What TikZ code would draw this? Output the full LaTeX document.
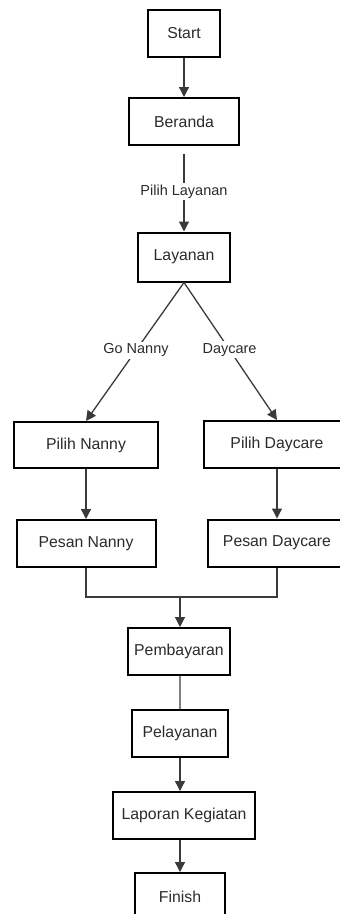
\documentclass[tikz,border=0pt]{standalone}
\usepackage{fontspec}
\setmainfont{Liberation Sans}
\usetikzlibrary{arrows.meta}
\definecolor{ink}{HTML}{2B2B2B}
\definecolor{linegray}{HTML}{3A3A3A}
\begin{document}
\begin{tikzpicture}[x=1pt,y=-1pt,
  box/.style={draw=black,line width=2pt,fill=white,text=ink,
    inner sep=0pt,minimum height=47pt,font=\fontsize{15.8}{18}\selectfont},
  flow/.style={draw=linegray,line width=1.3pt,
    -{Triangle[length=10pt,width=10pt]}},
  plain/.style={draw=linegray,line width=1.3pt},
  lbl/.style={fill=white,text=ink,inner sep=2pt,
    font=\fontsize{14.5}{17}\selectfont}]
\useasboundingbox (0,0) rectangle (340,914);
\clip (0,0) rectangle (340,914);

% process boxes
\node[box,minimum width=72pt]  (start)   at (184,33.5)  {Start};
\node[box,minimum width=110pt] (beranda) at (184,121.5) {Beranda};
\node[box,minimum width=92pt,minimum height=49pt] (layanan) at (184,257) {Layanan};
\node[box,minimum width=144pt,minimum height=46pt] (pnanny)  at (86,445)  {Pilih Nanny};
\node[box,minimum width=146pt,minimum height=47pt] (pday)    at (277,444.5) {Pilih Daycare};
\node[box,minimum width=139pt] (snanny)  at (86,543.5)  {Pesan Nanny};
\node[box,minimum width=138pt] (sday)    at (277,543)   {Pesan Daycare};
\node[box,minimum width=102pt] (bayar)   at (179,651.5) {Pembayaran};
\node[box,minimum width=96pt]  (layani)  at (180,733.5) {Pelayanan};
\node[box,minimum width=142pt] (laporan) at (184,815.5) {Laporan Kegiatan};
\node[box,minimum width=90pt]  (finish)  at (180,896.5) {Finish};

% junction of the two booking branches
\coordinate (join) at (180,597);

% connectors
\draw[flow] (start) -- (beranda);
\draw[flow,shorten <=8pt] (beranda) -- node[lbl,pos=0.53]{Pilih Layanan} (layanan);
\draw[flow] (layanan.south) -- node[lbl,pos=0.49]{Go Nanny} (pnanny.north);
\draw[flow] (layanan.south) -- node[lbl,pos=0.49]{Daycare} (pday.north);
\draw[flow] (pnanny) -- (snanny);
\draw[flow] (pday) -- (sday);
\draw[plain] (snanny.south) |- (join);
\draw[plain] (sday.south) |- (join);
\draw[flow] (join) -- (join |- bayar.north);
\draw[draw=gray,line width=1.2pt] (layani.north |- bayar.south) -- (layani.north);
\draw[flow] (layani.south) -- (layani.south |- laporan.north);
\draw[flow] (finish.north |- laporan.south) -- (finish.north);
\end{tikzpicture}
\end{document}
